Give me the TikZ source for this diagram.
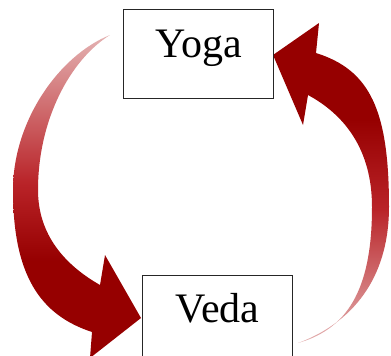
\documentclass[tikz,border=0pt]{standalone}
\usepackage{fontspec}
\setmainfont{Liberation Serif}
\definecolor{dred}{RGB}{150,0,0}
\definecolor{mred}{RGB}{185,35,40}
\definecolor{lred}{RGB}{228,178,178}
\pgfdeclareverticalshading{leftarr}{100bp}{color(0bp)=(dred); color(40bp)=(dred); color(52bp)=(mred); color(75bp)=(lred); color(100bp)=(lred)}
\pgfdeclareverticalshading{rightarr}{100bp}{color(0bp)=(lred); color(25bp)=(lred); color(46bp)=(mred); color(60bp)=(dred); color(100bp)=(dred)}
\begin{document}
\begin{tikzpicture}[x=1pt,y=-1pt,
  box/.style={draw=black!85, line width=1pt, fill=white, minimum width=150pt,
    inner sep=0pt, font=\fontsize{42}{42}\selectfont}]
\useasboundingbox (0,0) rectangle (391,356);
\clip (0,0) rectangle (391,356);
% left curved arrow (Yoga -> Veda)
\shade[shading=leftarr] (110,35) .. controls (60,55) and (13,120) .. (13,190)
  .. controls (13,275) and (40,315) .. (92,332) -- (90,358) -- (141,318)
  -- (105,255) -- (100,285) .. controls (65,265) and (38,235) .. (38,190)
  .. controls (38,120) and (70,60) .. cycle;
% right curved arrow (Veda -> Yoga)
\shade[shading=rightarr] (298,343) .. controls (360,320) and (389,270) .. (389,207)
  .. controls (389,110) and (370,70) .. (316,53) -- (319,23) -- (273,55)
  -- (303,125) -- (308,95) .. controls (345,115) and (372,150) .. (372,207)
  .. controls (372,282) and (352,328) .. cycle;
\node[box, text height=48pt, text depth=41pt, anchor=north west] (yoga) at (123,9) {Yoga};
\node[box, text height=47pt, text depth=60pt, anchor=north west] (veda) at (142,275) {Veda};
\end{tikzpicture}
\end{document}
